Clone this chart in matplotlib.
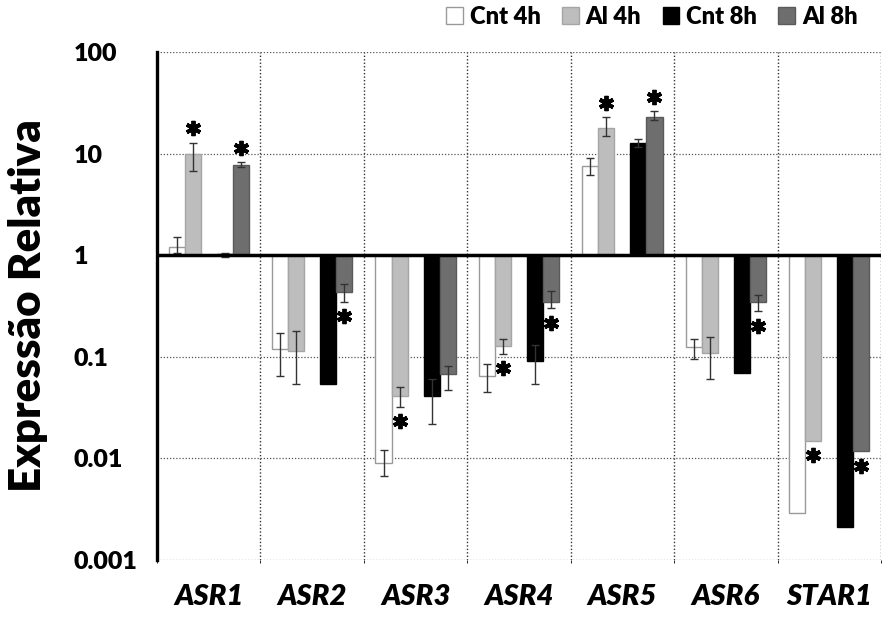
import numpy as np
import matplotlib
matplotlib.use("Agg")
import matplotlib.pyplot as plt
from matplotlib.ticker import FixedLocator, NullFormatter

plt.rcParams['font.family'] = ['Lato', 'DejaVu Sans']

categories = ['ASR1', 'ASR2', 'ASR3', 'ASR4', 'ASR5', 'ASR6', 'STAR1']
series_names = ['Cnt 4h', 'Al 4h', 'Cnt 8h', 'Al 8h']

cnt4 = [1.2, 0.12, 0.009, 0.065, 7.5, 0.125, 0.0029]
al4 = [9.8, 0.115, 0.041, 0.128, 18.0, 0.11, 0.015]
cnt8 = [1.02, 0.054, 0.041, 0.091, 12.8, 0.07, 0.0021]
al8 = [7.8, 0.43, 0.067, 0.35, 23.0, 0.35, 0.0117]

nan = np.nan
cnt4_lo = [1.05, 0.064, 0.0067, 0.045, 6.2, 0.096, nan]
cnt4_hi = [1.5, 0.17, 0.012, 0.085, 9.1, 0.15, nan]
al4_lo = [6.8, 0.054, 0.032, 0.107, 15.0, 0.061, nan]
al4_hi = [12.8, 0.18, 0.051, 0.15, 23.0, 0.157, nan]
cnt8_lo = [0.97, nan, 0.022, 0.054, 11.5, nan, nan]
cnt8_hi = [1.05, nan, 0.06, 0.13, 14.0, nan, nan]
al8_lo = [7.3, 0.35, 0.047, 0.30, 21.5, 0.28, nan]
al8_hi = [8.3, 0.52, 0.082, 0.44, 26.0, 0.41, nan]

sig_cnt4 = [0, 0, 0, 0, 0, 0, 0]
sig_al4 = [1, 0, 1, 1, 1, 0, 1]
sig_cnt8 = [0, 0, 0, 0, 0, 0, 0]
sig_al8 = [1, 1, 0, 1, 1, 1, 1]

y_ticks = [100, 10, 1, 0.1, 0.01, 0.001]
y_tick_labels = ['100', '10', '1', '0.1', '0.01', '0.001']

values = [cnt4, al4, cnt8, al8]
lows = [cnt4_lo, al4_lo, cnt8_lo, al8_lo]
highs = [cnt4_hi, al4_hi, cnt8_hi, al8_hi]
sigs = [sig_cnt4, sig_al4, sig_cnt8, sig_al8]

faces = ['white', '#bdbdbd', 'black', '#6e6e6e']
edges = ['#9a9a9a', '#a5a5a5', 'black', '#5a5a5a']
offsets = [-0.31, -0.155, 0.155, 0.31]
width = 0.155

fig = plt.figure(figsize=(8.85, 6.25), dpi=100)
ax = fig.add_axes([157/885, 1-560/625, 724/885, 508/625])
ax.set_yscale('log')
ax.set_ylim(0.001, 100)
ax.set_xlim(-0.5, len(categories) - 0.5)

x = np.arange(len(categories))
handles = []
for vals, lo, hi, sg, fc, ec, off, name in zip(values, lows, highs, sigs, faces, edges, offsets, series_names):
    v = np.array(vals, dtype=float)
    lo = np.array(lo, dtype=float)
    hi = np.array(hi, dtype=float)
    b = ax.bar(x + off, v - 1, bottom=1, width=width, color=fc, edgecolor=ec,
               linewidth=1.0, zorder=3, label=name)
    handles.append(b)
    ok = np.isfinite(lo) & np.isfinite(hi)
    ax.errorbar((x + off)[ok], v[ok], yerr=[v[ok] - lo[ok], hi[ok] - v[ok]],
                fmt='none', ecolor='#333333', elinewidth=1.0, capsize=3,
                capthick=1.0, zorder=4)
    for i in range(len(v)):
        if sg[i]:
            if v[i] > 1:
                top = np.nanmax([v[i], hi[i]])
                ys = top * 1.38
            else:
                bot = np.nanmin([v[i], lo[i]])
                ys = bot / 1.38
            ax.plot(x[i] + off, ys, marker=(6, 2, 0), color='black',
                    markersize=11, markeredgewidth=2.8, zorder=5)

# baseline at 1
ax.axhline(1, color='black', lw=2.5, zorder=6)

ax.yaxis.set_major_locator(FixedLocator(y_ticks))
ax.yaxis.set_minor_formatter(NullFormatter())
ax.yaxis.set_minor_locator(FixedLocator([]))
ax.set_yticks(y_ticks)
ax.set_yticklabels(y_tick_labels, fontsize=18, fontweight='heavy', ha='left')
ax.tick_params(axis='y', length=0, pad=60)

ax.set_xticks(x)
ax.set_xticklabels(categories, fontsize=21, fontweight='heavy', style='italic')
ax.tick_params(axis='x', length=0, pad=17)
ax.xaxis.set_minor_locator(FixedLocator(np.arange(-0.5, len(categories), 1.0)))

ax.grid(True, axis='y', which='major', linestyle=(0, (1, 1.5)), color='#555555', lw=0.9, zorder=0)
ax.grid(True, axis='x', which='minor', linestyle=(0, (1, 1.5)), color='#333333', lw=1.0, zorder=0)
ax.grid(False, axis='x', which='major')

for s in ['top', 'right', 'bottom']:
    ax.spines[s].set_visible(False)
ax.spines['left'].set_linewidth(2.4)
ax.spines['left'].set_color('black')

ax.set_ylabel('Expressão Relativa', fontsize=31.5, fontweight='heavy')
ax.yaxis.set_label_coords(-0.151, 0.5)

leg = fig.legend(handles=handles, loc='upper right', bbox_to_anchor=(0.993, 1.025),
                 ncol=4, frameon=False, handlelength=0.7, handleheight=0.7,
                 handletextpad=0.3, columnspacing=0.9,
                 prop={'weight': 'heavy', 'size': 17})

fig.savefig('out.png', dpi=100)
